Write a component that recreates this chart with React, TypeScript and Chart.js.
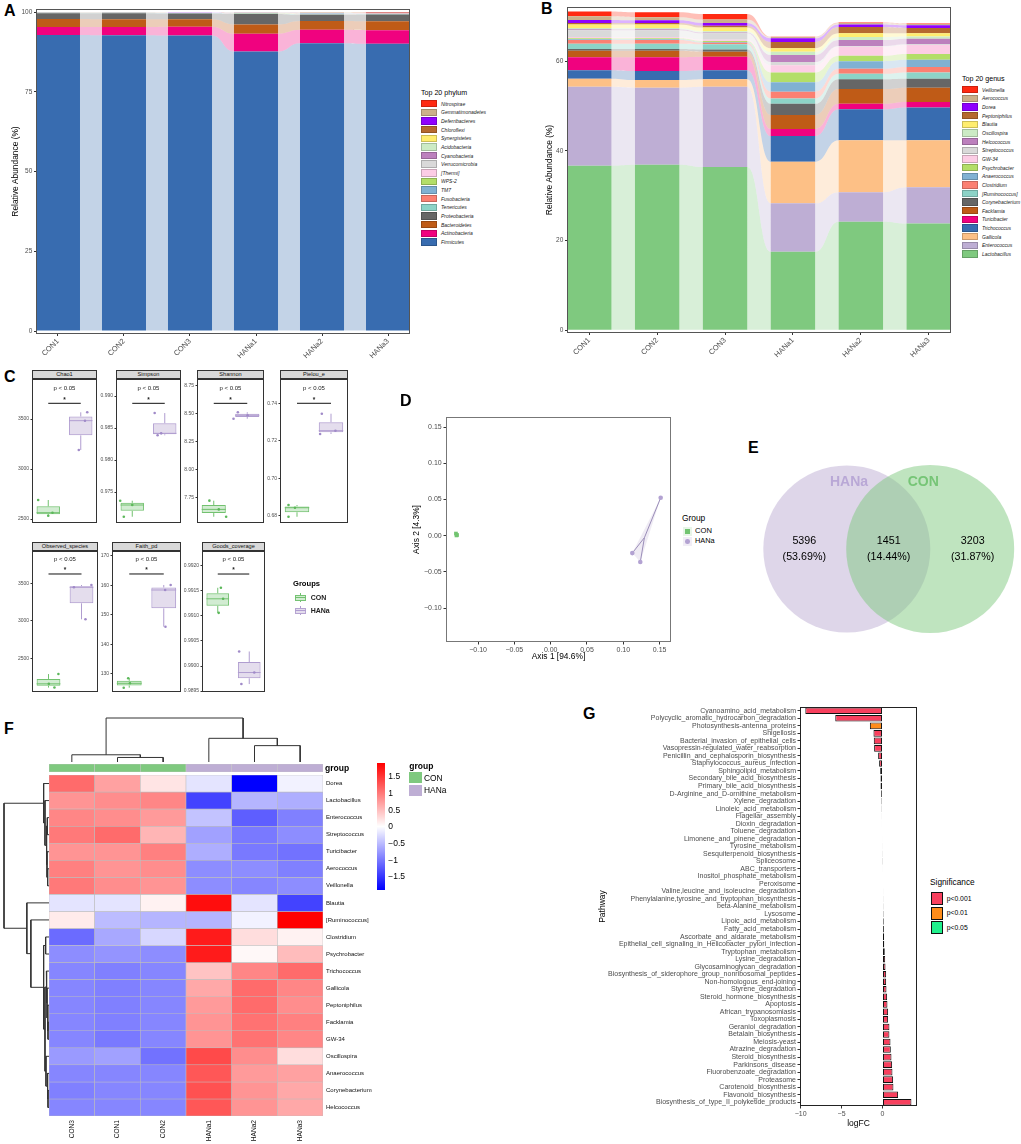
import React, { useEffect, useRef } from 'react';
import { Chart, registerables } from 'chart.js';

Chart.register(...registerables);
const FONT = "'Liberation Sans', Arial, Helvetica, sans-serif";
Chart.defaults.font.family = FONT;
Chart.defaults.color = '#4D4D4D';
Chart.defaults.plugins.legend.display = false;
Chart.defaults.plugins.tooltip.enabled = false;

/* ================= DATA: Panel A (phylum) ================= */
const SAMPLES = ['CON1', 'CON2', 'CON3', 'HANa1', 'HANa2', 'HANa3'];
const PHYLA = ['Firmicutes', 'Actinobacteria', 'Bacteroidetes', 'Proteobacteria', 'Tenericutes', 'Fusobacteria', 'TM7', 'WPS-2', '[Thermi]', 'Verrucomicrobia', 'Cyanobacteria', 'Acidobacteria', 'Synergistetes', 'Chloroflexi', 'Deferribacteres', 'Gemmatimonadetes', 'Nitrospirae'];
const PHYLUM_COLORS = ['#386CB0', '#F0027F', '#BF5B17', '#666666', '#8DD3C7', '#FB8072', '#80B1D3', '#B3DE69', '#FCCDE5', '#D9D9D9', '#BC80BD', '#CCEBC5', '#FFED6F', '#B5692F', '#8F00FF', '#CBB08A', '#FF2A12'];
const FIRMICUTES = [92.9, 92.8, 92.7, 87.7, 90.3, 90.1];
const ACTINOBACTERIA = [2.5, 2.6, 2.8, 5.6, 4.2, 4.3];
const BACTEROIDETES = [2.5, 2.4, 2.3, 2.9, 2.8, 2.8];
const PROTEOBACTERIA = [1.8, 1.9, 1.8, 3.3, 1.9, 2.1];
const TENERICUTES = [0.08, 0.08, 0.09, 0.12, 0.2, 0.18];
const FUSOBACTERIA = [0.03, 0.03, 0.03, 0.05, 0.1, 0.08];
const TM7 = [0.04, 0.03, 0.04, 0.06, 0.1, 0.08];
const WPS2 = [0.01, 0.01, 0.01, 0.02, 0.03, 0.02];
const THERMI = [0.03, 0.03, 0.03, 0.05, 0.07, 0.06];
const VERRUCOMICROBIA = [0.04, 0.05, 0.04, 0.08, 0.12, 0.1];
const CYANOBACTERIA = [0.02, 0.02, 0.02, 0.03, 0.05, 0.04];
const ACIDOBACTERIA = [0.01, 0.01, 0.01, 0.02, 0.02, 0.02];
const SYNERGISTETES = [0.01, 0.01, 0.01, 0.01, 0.02, 0.02];
const CHLOROFLEXI = [0.02, 0.02, 0.02, 0.03, 0.05, 0.04];
const DEFERRIBACTERES = [0.01, 0.01, 0.01, 0.01, 0.02, 0.02];
const GEMMATIMONADETES = [0.01, 0.01, 0.01, 0.01, 0.02, 0.02];
const NITROSPIRAE = [0.01, 0.01, 0.01, 0.02, 0.03, 0.1];
const PHYLUM_SERIES = [FIRMICUTES, ACTINOBACTERIA, BACTEROIDETES, PROTEOBACTERIA, TENERICUTES, FUSOBACTERIA, TM7, WPS2, THERMI, VERRUCOMICROBIA, CYANOBACTERIA, ACIDOBACTERIA, SYNERGISTETES, CHLOROFLEXI, DEFERRIBACTERES, GEMMATIMONADETES, NITROSPIRAE];
const A_TICKS = [0, 25, 50, 75, 100];

/* ================= DATA: Panel B (genus) ================= */
const GENERA = ['Lactobacillus', 'Enterococcus', 'Gallicola', 'Trichococcus', 'Turicibacter', 'Facklamia', 'Corynebacterium', '[Ruminococcus]', 'Clostridium', 'Anaerococcus', 'Psychrobacter', 'GW-34', 'Streptococcus', 'Helcococcus', 'Oscillospira', 'Blautia', 'Peptoniphilus', 'Dorea', 'Aerococcus', 'Veillonella'];
const GENUS_COLORS = ['#7FC97F', '#BEAED4', '#FDC086', '#386CB0', '#F0027F', '#BF5B17', '#666666', '#8DD3C7', '#FB8072', '#80B1D3', '#B3DE69', '#FCCDE5', '#D9D9D9', '#BC80BD', '#CCEBC5', '#FFED6F', '#B5692F', '#8F00FF', '#CBB08A', '#FF2A12'];
const LACTOBACILLUS = [36.7, 36.9, 36.4, 17.5, 24.2, 23.8];
const ENTEROCOCCUS = [17.6, 17.2, 17.9, 10.8, 6.6, 8.1];
const GALLICOLA = [1.8, 1.7, 1.7, 9.3, 11.6, 10.5];
const TRICHOCOCCUS = [1.9, 2.0, 2.0, 5.7, 6.9, 7.3];
const TURICIBACTER = [2.9, 3.1, 3.0, 1.6, 1.2, 1.2];
const FACKLAMIA = [1.4, 1.4, 1.1, 3.1, 3.3, 3.2];
const CORYNEBACTERIUM = [0.4, 0.4, 0.5, 2.5, 2.2, 2.0];
const RUMINOCOCCUS = [1.2, 1.2, 1.2, 1.2, 1.2, 1.4];
const CLOSTRIDIUM = [0.8, 0.8, 0.3, 1.5, 1.1, 1.2];
const ANAEROCOCCUS = [0.2, 0.2, 0.2, 2.1, 1.7, 1.6];
const PSYCHROBACTER = [0.2, 0.2, 0.2, 2.2, 1.2, 1.3];
const GW34 = [0.3, 0.3, 0.3, 1.6, 2.0, 2.0];
const STREPTOCOCCUS = [1.5, 1.5, 1.4, 0.7, 0.2, 0.2];
const HELCOCOCCUS = [0.2, 0.2, 0.2, 1.6, 1.3, 1.2];
const OSCILLOSPIRA = [0.3, 0.3, 0.3, 0.7, 0.7, 0.5];
const BLAUTIA = [0.8, 0.8, 0.8, 0.8, 0.8, 0.7];
const PEPTONIPHILUS = [0.3, 0.3, 0.4, 1.4, 1.4, 1.2];
const DOREA = [0.7, 0.6, 0.6, 0.8, 0.6, 0.6];
const AEROCOCCUS = [0.8, 0.7, 0.8, 0.3, 0.3, 0.3];
const VEILLONELLA = [1.1, 1.1, 1.2, 0.05, 0.1, 0.1];
const GENUS_SERIES = [LACTOBACILLUS, ENTEROCOCCUS, GALLICOLA, TRICHOCOCCUS, TURICIBACTER, FACKLAMIA, CORYNEBACTERIUM, RUMINOCOCCUS, CLOSTRIDIUM, ANAEROCOCCUS, PSYCHROBACTER, GW34, STREPTOCOCCUS, HELCOCOCCUS, OSCILLOSPIRA, BLAUTIA, PEPTONIPHILUS, DOREA, AEROCOCCUS, VEILLONELLA];
const B_TICKS = [0, 20, 40, 60];

/* ================= DATA: Panel C (alpha diversity) ================= */
const GROUPS = ['CON', 'HANa'];
const ALPHA_NAMES = ['Chao1', 'Simpson', 'Shannon', 'Pielou_e', 'Observed_species', 'Faith_pd', 'Goods_coverage'];
const CHAO1_CON = [2690, 2563, 2533];
const CHAO1_HANA = [3567, 3483, 3190];
const SIMPSON_CON = [0.97364, 0.97114, 0.97297];
const SIMPSON_HANA = [0.98734, 0.98386, 0.98417];
const SHANNON_CON = [7.72, 7.576, 7.642];
const SHANNON_HANA = [8.454, 8.512, 8.485];
const PIELOU_CON = [0.68568, 0.67943, 0.68425];
const PIELOU_HANA = [0.73445, 0.72361, 0.72537];
const OBS_CON = [2290, 2110, 2160];
const OBS_HANA = [3477, 3447, 3020];
const FAITH_CON = [128.44, 125.25, 126.74];
const FAITH_HANA = [160.07, 158.37, 145.93];
const GOODS_CON = [0.99156, 0.99106, 0.99134];
const GOODS_HANA = [0.99029, 0.98964, 0.98987];
const CHAO1_JIT = [-0.31, 0.13, 0.0, 0.2, 0.13, -0.06];
const SIMPSON_JIT = [-0.37, -0.26, 0.0, -0.31, -0.22, -0.11];
const SHANNON_JIT = [-0.13, 0.37, 0.15, -0.41, -0.28, 0.01];
const PIELOU_JIT = [-0.25, -0.25, -0.06, -0.27, -0.32, 0.13];
const OBS_JIT = [0.3, 0.18, 0.01, 0.3, -0.23, 0.12];
const FAITH_JIT = [-0.03, -0.16, 0.02, 0.2, 0.04, 0.05];
const GOODS_JIT = [0.1, 0.03, 0.17, -0.32, -0.25, 0.16];
const CHAO1_TICKS = [2500, 3000, 3500];
const SIMPSON_TICKS = [0.975, 0.98, 0.985, 0.99];
const SHANNON_TICKS = [7.75, 8.0, 8.25, 8.5, 8.75];
const PIELOU_TICKS = [0.68, 0.7, 0.72, 0.74];
const OBS_TICKS = [2500, 3000, 3500];
const FAITH_TICKS = [130, 140, 150, 160, 170];
const GOODS_TICKS = [0.9895, 0.99, 0.9905, 0.991, 0.9915, 0.992];
const ALPHA_MIN = [2460, 0.97016, 7.52, 0.6761, 2051, 123.79, 0.989482];
const ALPHA_MAX = [3900, 0.99266, 8.81, 0.75297, 3930.6, 171.59, 0.992293];
const ALPHA_SIG = [3657, 0.98886, 8.592, 0.74, 3624, 163.8, 0.991834];
const ALPHA_DECIMALS = [0, 3, 2, 2, 0, 0, 4];
const ALPHA_P = 'p < 0.05';

/* ================= DATA: Panel D (PCoA) ================= */
const CON_PC1 = [-0.1305, -0.129, -0.1298];
const CON_PC2 = [0.003, 0.001, 0.0004];
const HANA_PC1 = [0.1515, 0.1124, 0.1234];
const HANA_PC2 = [0.0525, -0.024, -0.0363];
const D_TICKS = [-0.1, -0.05, 0, 0.05, 0.1, 0.15];

/* ================= DATA: Panel E (Venn) ================= */
const VENN_SETS = ['HANa', 'CON'];
const VENN_COUNTS = [5396, 1451, 3203];

/* ================= DATA: Panel F (heatmap) ================= */
const HEAT_COLS = ['CON3', 'CON1', 'CON2', 'HANa1', 'HANa2', 'HANa3'];
const HEAT_GROUPS = ['CON', 'CON', 'CON', 'HANa', 'HANa', 'HANa'];
const HEAT_ROWS = ['Dorea', 'Lactobacillus', 'Enterococcus', 'Streptococcus', 'Turicibacter', 'Aerococcus', 'Veillonella', 'Blautia', '[Ruminococcus]', 'Clostridium', 'Psychrobacter', 'Trichococcus', 'Gallicola', 'Peptoniphilus', 'Facklamia', 'GW-34', 'Oscillospira', 'Anaerococcus', 'Corynebacterium', 'Helcococcus'];
const Z_DOREA = [1.1, 0.7, 0.2, -0.2, -1.9, -0.1];
const Z_LACTOBACILLUS = [0.8, 0.85, 0.9, -1.4, -0.55, -0.6];
const Z_ENTEROCOCCUS = [0.9, 0.85, 0.75, -0.45, -1.2, -0.95];
const Z_STREPTOCOCCUS = [1.0, 1.1, 0.55, -0.7, -1.0, -0.85];
const Z_TURICIBACTER = [0.8, 0.8, 0.95, -0.6, -1.0, -1.05];
const Z_AEROCOCCUS = [0.95, 0.8, 0.85, -0.85, -0.85, -0.95];
const Z_VEILLONELLA = [1.0, 0.85, 0.8, -0.85, -0.9, -0.85];
const Z_BLAUTIA = [-0.2, -0.2, 0.1, 1.8, -0.2, -1.4];
const Z_RUMINOCOCCUS = [0.15, -0.5, -0.55, -0.55, -0.1, 1.9];
const Z_CLOSTRIDIUM = [-1.1, -0.65, -0.3, 1.7, 0.25, 0.1];
const Z_PSYCHROBACTER = [-0.85, -0.8, -0.85, 1.7, 0.05, 0.5];
const Z_TRICHOCOCCUS = [-0.9, -0.95, -0.9, 0.45, 0.9, 1.1];
const Z_GALLICOLA = [-0.9, -0.95, -0.9, 0.65, 1.1, 0.9];
const Z_PEPTONIPHILUS = [-0.9, -0.95, -0.9, 0.75, 1.1, 0.85];
const Z_FACKLAMIA = [-0.9, -0.95, -0.9, 0.8, 1.05, 0.95];
const Z_GW34 = [-0.9, -1.0, -0.9, 0.8, 1.05, 0.9];
const Z_OSCILLOSPIRA = [-0.75, -0.7, -1.05, 1.35, 0.85, 0.25];
const Z_ANAEROCOCCUS = [-0.9, -0.9, -0.9, 1.25, 0.75, 0.7];
const Z_CORYNEBACTERIUM = [-0.95, -0.9, -0.9, 1.3, 0.8, 0.65];
const Z_HELCOCOCCUS = [-0.9, -0.9, -0.9, 1.25, 0.8, 0.65];
const HEAT_Z = [Z_DOREA, Z_LACTOBACILLUS, Z_ENTEROCOCCUS, Z_STREPTOCOCCUS, Z_TURICIBACTER, Z_AEROCOCCUS, Z_VEILLONELLA, Z_BLAUTIA, Z_RUMINOCOCCUS, Z_CLOSTRIDIUM, Z_PSYCHROBACTER, Z_TRICHOCOCCUS, Z_GALLICOLA, Z_PEPTONIPHILUS, Z_FACKLAMIA, Z_GW34, Z_OSCILLOSPIRA, Z_ANAEROCOCCUS, Z_CORYNEBACTERIUM, Z_HELCOCOCCUS];
const Z_LIMIT = 1.9;
const Z_LEGEND_TICKS = [1.5, 1, 0.5, 0, -0.5, -1, -1.5];
type Tree = number | [number, Tree, Tree];
const COL_TREE: Tree = [1.0, [0.164, 0, [0.103, 1, 2]], [0.538, 3, [0.372, 4, 5]]];
const ROW_TREE: Tree = [134, [16, 0, [12, 1, [8, [5, 2, 3], [6, 4, [4, 5, 6]]]]], [66, 7, [54, 8, [16, [10, 9, 10], [12, [8, 11, [6, 12, [4, 13, [3, 14, 15]]]], [9, 16, [5, 17, [3, 18, 19]]]]]]]];

/* ================= DATA: Panel G (pathways) ================= */
const PATHWAYS = ['Cyanoamino_acid_metabolism', 'Polycyclic_aromatic_hydrocarbon_degradation', 'Photosynthesis-antenna_proteins', 'Shigellosis', 'Bacterial_invasion_of_epithelial_cells', 'Vasopressin-regulated_water_reabsorption', 'Penicillin_and_cephalosporin_biosynthesis', 'Staphylococcus_aureus_infection', 'Sphingolipid_metabolism', 'Secondary_bile_acid_biosynthesis', 'Primary_bile_acid_biosynthesis', 'D-Arginine_and_D-ornithine_metabolism', 'Xylene_degradation', 'Linoleic_acid_metabolism', 'Flagellar_assembly', 'Dioxin_degradation', 'Toluene_degradation', 'Limonene_and_pinene_degradation', 'Tyrosine_metabolism', 'Sesquiterpenoid_biosynthesis', 'Spliceosome', 'ABC_transporters', 'Inositol_phosphate_metabolism', 'Peroxisome', 'Valine,leucine_and_isoleucine_degradation', 'Phenylalanine,tyrosine_and_tryptophan_biosynthesis', 'beta-Alanine_metabolism', 'Lysosome', 'Lipoic_acid_metabolism', 'Fatty_acid_metabolism', 'Ascorbate_and_aldarate_metabolism', 'Epithelial_cell_signaling_in_Helicobacter_pylori_infection', 'Tryptophan_metabolism', 'Lysine_degradation', 'Glycosaminoglycan_degradation', 'Biosynthesis_of_siderophore_group_nonribosomal_peptides', 'Non-homologous_end-joining', 'Styrene_degradation', 'Steroid_hormone_biosynthesis', 'Apoptosis', 'African_trypanosomiasis', 'Toxoplasmosis', 'Geraniol_degradation', 'Betalain_biosynthesis', 'Meiosis-yeast', 'Atrazine_degradation', 'Steroid_biosynthesis', 'Parkinsons_disease', 'Fluorobenzoate_degradation', 'Proteasome', 'Carotenoid_biosynthesis', 'Flavonoid_biosynthesis', 'Biosynthesis_of_type_II_polyketide_products'];
const LOGFC = [-9.43, -5.77, -1.54, -1.1, -1.06, -1.02, -0.53, -0.41, -0.28, -0.24, -0.24, -0.16, -0.12, -0.1, -0.08, -0.07, -0.06, -0.05, -0.04, -0.03, -0.02, 0.05, 0.06, 0.07, 0.08, 0.09, 0.1, 0.12, 0.15, 0.17, 0.2, 0.22, 0.28, 0.33, 0.37, 0.45, 0.45, 0.49, 0.57, 0.61, 0.69, 0.69, 0.85, 0.85, 0.98, 1.02, 1.1, 1.18, 1.22, 1.3, 1.34, 1.91, 3.54];
const SIG_LEVELS = ['p<0.001', 'p<0.01', 'p<0.05'];
const SIGNIF = ['p<0.001', 'p<0.001', 'p<0.01', 'p<0.001', 'p<0.001', 'p<0.001', 'p<0.001', 'p<0.001', 'p<0.001', 'p<0.001', 'p<0.001', 'p<0.01', 'p<0.05', 'p<0.05', 'p<0.05', 'p<0.05', 'p<0.01', 'p<0.05', 'p<0.05', 'p<0.05', 'p<0.05', 'p<0.01', 'p<0.01', 'p<0.05', 'p<0.01', 'p<0.01', 'p<0.01', 'p<0.001', 'p<0.01', 'p<0.01', 'p<0.01', 'p<0.001', 'p<0.001', 'p<0.001', 'p<0.001', 'p<0.001', 'p<0.001', 'p<0.001', 'p<0.001', 'p<0.001', 'p<0.001', 'p<0.001', 'p<0.001', 'p<0.001', 'p<0.001', 'p<0.001', 'p<0.001', 'p<0.001', 'p<0.001', 'p<0.001', 'p<0.001', 'p<0.001', 'p<0.001'];
const G_TICKS = [-10, -5, 0];

/* ================= STYLES ================= */
const CON_LINE = '#72C16F';
const CON_FILL = 'rgba(127,201,127,0.35)';
const CON_PT = '#5CB85A';
const HANA_LINE = '#B09DD0';
const HANA_FILL = 'rgba(190,174,212,0.42)';
const HANA_PT = '#A08AC8';
const SIG_COLORS = ['#F8405E', '#FF8C1A', '#20F08C'];

/* ================= HELPERS ================= */
type Plot = { L: number; T: number; R: number; B: number; ml: number; mt: number; mr: number; mb: number };
type Box = { x: number; y: number; w: number; h: number };
const boxOf = (p: Plot): Box => ({ x: p.L - p.ml, y: p.T - p.mt, w: p.R - p.L + p.ml + p.mr, h: p.B - p.T + p.mt + p.mb });
const fixW = (w: number) => (s: any) => { s.width = w; s.paddingLeft = 0; s.paddingRight = 0; s.paddingTop = 0; s.paddingBottom = 0; };
const fixH = (h: number) => (s: any) => { s.height = h; s.paddingLeft = 0; s.paddingRight = 0; s.paddingTop = 0; s.paddingBottom = 0; };
const tickGrid = (len: number) => ({ display: true, drawOnChartArea: false, drawTicks: true, tickLength: len, color: '#333333', lineWidth: 1, offset: false });
const setTicks = (vals: number[]) => (s: any) => { s.ticks = vals.map((v) => ({ value: v })); };
const minus = (s: string) => s.replace('-', '\u2212');
const baseOpts = (padding: any) => ({ responsive: false, animation: false, events: [], layout: { autoPadding: false, padding } });

function hexA(hex: string, a: number) {
  const n = parseInt(hex.slice(1), 16);
  return `rgba(${(n >> 16) & 255},${(n >> 8) & 255},${n & 255},${a})`;
}
function zColor(z: number) {
  const t = Math.max(-1, Math.min(1, z / Z_LIMIT));
  const k = Math.round(255 * (1 - Math.abs(t)));
  return t >= 0 ? `rgb(255,${k},${k})` : `rgb(${k},${k},255)`;
}
function q7(s: number[], p: number) {
  const h = (s.length - 1) * p;
  const lo = Math.floor(h);
  const hi = Math.ceil(h);
  return s[lo] + (h - lo) * (s[hi] - s[lo]);
}
function boxStats(v: number[]) {
  const s = [...v].sort((a, b) => a - b);
  return { min: s[0], q1: q7(s, 0.25), med: q7(s, 0.5), q3: q7(s, 0.75), max: s[s.length - 1] };
}
const mean = (a: number[]) => a.reduce((x, y) => x + y, 0) / a.length;

function dendro(t: Tree, out: { p: number; h: number }[][]): { p: number; h: number } {
  if (typeof t === 'number') return { p: t + 0.5, h: 0 };
  const [h, a, b] = t;
  const A = dendro(a, out);
  const B = dendro(b, out);
  out.push([{ p: A.p, h: A.h }, { p: A.p, h }, { p: B.p, h }, { p: B.p, h: B.h }]);
  return { p: (A.p + B.p) / 2, h };
}

const framePlugin = (color: string, lw = 1) => ({
  id: 'frame',
  afterDatasetsDraw(chart: any) {
    const { ctx, chartArea: a } = chart;
    ctx.save();
    ctx.strokeStyle = color;
    ctx.lineWidth = lw;
    ctx.strokeRect(a.left + lw / 2, a.top + lw / 2, a.right - a.left - lw, a.bottom - a.top - lw);
    ctx.restore();
  },
});

const flowPlugin = (alpha: number) => ({
  id: 'flows',
  beforeDatasetsDraw(chart: any) {
    const { ctx, chartArea: ca } = chart;
    ctx.save();
    ctx.beginPath();
    ctx.rect(ca.left, ca.top, ca.right - ca.left, ca.bottom - ca.top);
    ctx.clip();
    chart.data.datasets.forEach((ds: any, di: number) => {
      const els = chart.getDatasetMeta(di).data;
      ctx.fillStyle = hexA(ds.backgroundColor, alpha);
      for (let i = 0; i + 1 < els.length; i++) {
        const a = els[i].getProps(['x', 'y', 'base', 'width'], true);
        const b = els[i + 1].getProps(['x', 'y', 'base', 'width'], true);
        const x1 = a.x + a.width / 2;
        const x2 = b.x - b.width / 2;
        const xm = (x1 + x2) / 2;
        ctx.beginPath();
        ctx.moveTo(x1, a.y);
        ctx.bezierCurveTo(xm, a.y, xm, b.y, x2, b.y);
        ctx.lineTo(x2, b.base);
        ctx.bezierCurveTo(xm, b.base, xm, a.base, x1, a.base);
        ctx.closePath();
        ctx.fill();
      }
    });
    ctx.restore();
  },
});

const sigTextPlugin = (sig: number) => ({
  id: 'sigtext',
  afterDatasetsDraw(chart: any) {
    const { ctx } = chart;
    const px = chart.scales.x.getPixelForValue(0.5);
    const py = chart.scales.y.getPixelForValue(sig);
    ctx.save();
    ctx.fillStyle = '#222';
    ctx.textAlign = 'center';
    ctx.textBaseline = 'middle';
    ctx.font = `6px ${FONT}`;
    ctx.fillText(ALPHA_P, px, py - 15);
    ctx.font = `bold 6.5px ${FONT}`;
    ctx.fillText('*', px, py - 3.5);
    ctx.restore();
  },
});

function ChartCanvas({ box, make }: { box: Box; make: () => any }) {
  const ref = useRef<HTMLCanvasElement | null>(null);
  useEffect(() => {
    if (!ref.current) return;
    const chart = new Chart(ref.current, make());
    return () => chart.destroy();
  }, []);
  return <canvas ref={ref} width={box.w} height={box.h} style={{ position: 'absolute', left: box.x, top: box.y, width: box.w, height: box.h }} />;
}

function Txt({ x, y, text, size, bold, italic, color = '#000', align = 'left' }: any) {
  const tx = align === 'center' ? 'translateX(-50%)' : align === 'right' ? 'translateX(-100%)' : undefined;
  return (
    <div style={{ position: 'absolute', left: x, top: y - size, height: size * 2, lineHeight: `${size * 2}px`, fontSize: size, fontWeight: bold ? 'bold' : 'normal', fontStyle: italic ? 'italic' : 'normal', color, whiteSpace: 'nowrap', transform: tx }}>
      {text}
    </div>
  );
}

function PanelLabel({ x, y, t }: { x: number; y: number; t: string }) {
  return <div style={{ position: 'absolute', left: x, top: y, fontSize: 16, lineHeight: '16px', fontWeight: 'bold', color: '#000' }}>{t}</div>;
}

/* ================= PANELS A & B ================= */
function makeStacked(names: string[], colors: string[], series: number[][], plot: Plot, xMin: number, xMax: number, barPct: number, yMin: number, yMax: number, yTicks: number[]) {
  return () => ({
    type: 'bar',
    data: {
      datasets: names.map((n, k) => ({
        label: n,
        data: series[k].map((v, i) => ({ x: i, y: v })),
        backgroundColor: colors[k],
        borderWidth: 0,
        barPercentage: barPct,
        categoryPercentage: 1,
      })),
    },
    options: {
      ...baseOpts({ top: plot.mt, right: plot.mr, left: 0, bottom: 0 }),
      scales: {
        x: {
          type: 'linear', stacked: true, min: xMin, max: xMax, offset: false,
          afterBuildTicks: setTicks(SAMPLES.map((_, i) => i)),
          ticks: { autoSkip: false, maxRotation: 45, minRotation: 45, font: { size: 7.5 }, color: '#4D4D4D', padding: 1, callback: (v: any) => SAMPLES[Math.round(v)] },
          grid: tickGrid(2), border: { display: false }, afterFit: fixH(plot.mb),
        },
        y: {
          type: 'linear', stacked: true, min: yMin, max: yMax,
          afterBuildTicks: setTicks(yTicks),
          ticks: { font: { size: 6.5 }, color: '#4D4D4D', padding: 1.7 },
          grid: tickGrid(2), border: { display: false },
          title: { display: true, text: 'Relative Abundance (%)', font: { size: 8.4 }, color: '#000', padding: 0 },
          afterFit: fixW(plot.ml),
        },
      },
    },
    plugins: [flowPlugin(0.3), framePlugin('#555')],
  });
}
const A_PLOT: Plot = { L: 36, T: 9, R: 410, B: 334, ml: 25, mt: 2, mr: 2, mb: 32 };
const B_PLOT: Plot = { L: 567, T: 7, R: 951, B: 333, ml: 22, mt: 2, mr: 2, mb: 32 };

function KeyLegend({ x, titleY, firstY, step, title, names, colors }: any) {
  return (
    <>
      <Txt x={x} y={titleY} size={7.1} text={title} />
      {names.map((n: string, i: number) => (
        <React.Fragment key={n}>
          <div style={{ position: 'absolute', left: x, top: firstY + i * step - 3.7, width: 16, height: 7.4, background: colors[i], boxSizing: 'border-box', border: '0.7px solid rgba(0,0,0,0.2)' }} />
          <Txt x={x + 20} y={firstY + i * step} size={5} italic text={n} color="#222" />
        </React.Fragment>
      ))}
    </>
  );
}

/* ================= PANEL C ================= */
const ALPHA_CON = [CHAO1_CON, SIMPSON_CON, SHANNON_CON, PIELOU_CON, OBS_CON, FAITH_CON, GOODS_CON];
const ALPHA_HANA = [CHAO1_HANA, SIMPSON_HANA, SHANNON_HANA, PIELOU_HANA, OBS_HANA, FAITH_HANA, GOODS_HANA];
const ALPHA_JIT = [CHAO1_JIT, SIMPSON_JIT, SHANNON_JIT, PIELOU_JIT, OBS_JIT, FAITH_JIT, GOODS_JIT];
const ALPHA_TICKS = [CHAO1_TICKS, SIMPSON_TICKS, SHANNON_TICKS, PIELOU_TICKS, OBS_TICKS, FAITH_TICKS, GOODS_TICKS];
const FACET_RECTS = [
  [32, 379, 97, 523], [116, 379, 181, 523], [197, 379, 264, 523], [280, 379, 348, 523],
  [32, 551, 98, 692], [112, 551, 181, 692], [202, 551, 265, 692],
];

function Facet({ idx }: { idx: number }) {
  const [L, T, R, B] = FACET_RECTS[idx];
  const plot: Plot = { L, T, R, B, ml: 20, mt: 0, mr: 1, mb: 1 };
  const make = () => {
    const con = ALPHA_CON[idx];
    const hana = ALPHA_HANA[idx];
    const jit = ALPHA_JIT[idx];
    const sc = boxStats(con);
    const sh = boxStats(hana);
    const whisk = (g: number, s: any) => [
      { x: g, y: s.min }, { x: g, y: s.q1 }, { x: g, y: null },
      { x: g, y: s.q3 }, { x: g, y: s.max }, { x: g, y: null },
      { x: g - 0.36, y: s.med }, { x: g + 0.36, y: s.med },
    ];
    const dec = ALPHA_DECIMALS[idx];
    return {
      type: 'scatter',
      data: {
        datasets: [
          { type: 'bar', data: [{ x: 0, y: [sc.q1, sc.q3] }, { x: 1, y: [sh.q1, sh.q3] }], backgroundColor: [CON_FILL, HANA_FILL], borderColor: [CON_LINE, HANA_LINE], borderWidth: 1, borderSkipped: false, grouped: false, barPercentage: 0.72, categoryPercentage: 1, order: 5 },
          { type: 'scatter', showLine: true, data: whisk(0, sc), borderColor: CON_LINE, borderWidth: 1, pointRadius: 0, order: 4 },
          { type: 'scatter', showLine: true, data: whisk(1, sh), borderColor: HANA_LINE, borderWidth: 1, pointRadius: 0, order: 4 },
          { type: 'scatter', data: con.map((v, k) => ({ x: 0 + jit[k], y: v })), pointRadius: 1.3, backgroundColor: CON_PT, borderWidth: 0, order: 2 },
          { type: 'scatter', data: hana.map((v, k) => ({ x: 1 + jit[k + 3], y: v })), pointRadius: 1.3, backgroundColor: HANA_PT, borderWidth: 0, order: 2 },
          { type: 'scatter', showLine: true, data: [{ x: 0, y: ALPHA_SIG[idx] }, { x: 1, y: ALPHA_SIG[idx] }], borderColor: '#111', borderWidth: 1, pointRadius: 0, order: 1 },
        ],
      },
      options: {
        ...baseOpts({ top: 0, right: 1, bottom: 1, left: 0 }),
        scales: {
          x: { type: 'linear', display: false, offset: false, min: -0.5, max: 1.5, afterBuildTicks: setTicks([0, 1]) },
          y: {
            type: 'linear', min: ALPHA_MIN[idx], max: ALPHA_MAX[idx],
            afterBuildTicks: setTicks(ALPHA_TICKS[idx]),
            ticks: { font: { size: 5 }, color: '#4D4D4D', padding: 1.5, callback: (v: any) => Number(v).toFixed(dec) },
            grid: tickGrid(1.5), border: { display: false }, afterFit: fixW(20),
          },
        },
      },
      plugins: [framePlugin('#333'), sigTextPlugin(ALPHA_SIG[idx])],
    };
  };
  return (
    <>
      <div style={{ position: 'absolute', left: L, top: T - 8.6, width: R - L, height: 9, boxSizing: 'border-box', background: '#D9D9D9', border: '0.8px solid #333', fontSize: 5.6, lineHeight: '7.5px', textAlign: 'center', color: '#111' }}>{ALPHA_NAMES[idx]}</div>
      <ChartCanvas box={boxOf(plot)} make={make} />
    </>
  );
}

function BoxKey({ x, y, line, fill }: any) {
  return (
    <>
      <div style={{ position: 'absolute', left: x + 5, top: y - 4.5, width: 1, height: 9, background: line }} />
      <div style={{ position: 'absolute', left: x, top: y - 3, width: 11, height: 6, boxSizing: 'border-box', border: `1px solid ${line}`, background: '#fff' }} />
      <div style={{ position: 'absolute', left: x, top: y - 3, width: 11, height: 6, background: fill }} />
      <div style={{ position: 'absolute', left: x, top: y - 0.5, width: 11, height: 1, background: line }} />
    </>
  );
}

/* ================= PANEL D ================= */
const D_PLOT: Plot = { L: 446, T: 417, R: 671, B: 642, ml: 34, mt: 2, mr: 2, mb: 20 };
const makeD = () => {
  const hx = mean(HANA_PC1), hy = mean(HANA_PC2);
  const cx = mean(CON_PC1), cy = mean(CON_PC2);
  const spider = (xs: number[], ys: number[], mx: number, my: number) => xs.flatMap((x, i) => [{ x: mx, y: my }, { x, y: ys[i] }, { x: mx, y: null }]);
  const hull = (xs: number[], ys: number[]) => [...xs.map((x, i) => ({ x, y: ys[i] })), { x: xs[0], y: ys[0] }];
  const fmt = (v: any) => minus(Number(v).toFixed(2));
  return {
    type: 'scatter',
    data: {
      datasets: [
        { data: hull(HANA_PC1, HANA_PC2), showLine: true, fill: 'shape', backgroundColor: 'rgba(190,174,212,0.25)', borderWidth: 0, pointRadius: 0, order: 5 },
        { data: hull(CON_PC1, CON_PC2), showLine: true, fill: 'shape', backgroundColor: 'rgba(127,201,127,0.25)', borderWidth: 0, pointRadius: 0, order: 5 },
        { data: spider(HANA_PC1, HANA_PC2, hx, hy), showLine: true, borderColor: '#9A8DB8', borderWidth: 1, pointRadius: 0, order: 3 },
        { data: spider(CON_PC1, CON_PC2, cx, cy), showLine: true, borderColor: '#6CB86A', borderWidth: 1, pointRadius: 0, order: 3 },
        { data: HANA_PC1.map((x, i) => ({ x, y: HANA_PC2[i] })), pointStyle: 'circle', pointRadius: 2.3, backgroundColor: '#B3A2D2', borderWidth: 0, order: 1 },
        { data: CON_PC1.map((x, i) => ({ x, y: CON_PC2[i] })), pointStyle: 'rect', pointRadius: 2.6, backgroundColor: '#72C470', borderWidth: 0, order: 1 },
      ],
    },
    options: {
      ...baseOpts({ top: D_PLOT.mt, right: D_PLOT.mr, left: 0, bottom: 0 }),
      scales: {
        x: {
          type: 'linear', min: -0.1442, max: 0.1657, afterBuildTicks: setTicks(D_TICKS),
          ticks: { font: { size: 7 }, color: '#4D4D4D', padding: 1, callback: fmt },
          grid: tickGrid(2.5), border: { display: false },
          title: { display: true, text: 'Axis 1 [94.6%]', font: { size: 8.4 }, color: '#000', padding: 0 },
          afterFit: fixH(D_PLOT.mb),
        },
        y: {
          type: 'linear', min: -0.1468, max: 0.164, afterBuildTicks: setTicks(D_TICKS),
          ticks: { font: { size: 7 }, color: '#4D4D4D', padding: 1.8, callback: fmt },
          grid: tickGrid(2.5), border: { display: false },
          title: { display: true, text: 'Axis 2 [4.3%]', font: { size: 8.4 }, color: '#000', padding: 0 },
          afterFit: fixW(D_PLOT.ml),
        },
      },
    },
    plugins: [framePlugin('#777')],
  };
};

/* ================= PANEL E ================= */
const E_BOX: Box = { x: 755, y: 459, w: 267, h: 180 };
const makeE = () => ({
  type: 'bubble',
  data: {
    datasets: [
      { data: [{ x: -0.937, y: 0, r: 83.5 }], backgroundColor: 'rgba(190,174,212,0.5)', borderWidth: 0, clip: false, order: 2 },
      { data: [{ x: 0.937, y: 0, r: 84 }], backgroundColor: 'rgba(127,201,127,0.5)', borderWidth: 0, clip: false, order: 1 },
    ],
  },
  options: {
    ...baseOpts(0),
    scales: { x: { type: 'linear', display: false, min: -3, max: 3 }, y: { type: 'linear', display: false, min: -1, max: 1 } },
  },
});

/* ================= PANEL F ================= */
const F_HEAT: Plot = { L: 49, T: 775, R: 323, B: 1116, ml: 0, mt: 0, mr: 62, mb: 28 };
const F_ANNOT: Plot = { L: 49, T: 764, R: 323, B: 772, ml: 0, mt: 0, mr: 0, mb: 0 };
const F_TOP: Plot = { L: 49, T: 718, R: 323, B: 762, ml: 2, mt: 2, mr: 2, mb: 0 };
const F_LEFT: Plot = { L: 4, T: 775, R: 49, B: 1116, ml: 2, mt: 0, mr: 1, mb: 0 };
const GROUP_COLORS: Record<string, string> = { CON: '#7FC97F', HANa: '#BEAED4' };

const makeHeat = () => ({
  type: 'bar',
  data: {
    labels: HEAT_COLS,
    datasets: HEAT_Z.map((row, r) => ({
      data: row.map(() => [r, r + 1]),
      backgroundColor: row.map(zColor),
      borderColor: '#BDBDBD', borderWidth: 0.6, borderSkipped: false,
      grouped: false, barPercentage: 1, categoryPercentage: 1,
    })),
  },
  options: {
    ...baseOpts({ top: 0, left: 0, right: 0, bottom: 0 }),
    scales: {
      x: {
        type: 'category', offset: true, grid: { display: false, drawTicks: false }, border: { display: false },
        ticks: { autoSkip: false, maxRotation: 90, minRotation: 90, font: { size: 6.6 }, color: '#111', padding: 4 },
        afterFit: fixH(F_HEAT.mb),
      },
      y: {
        type: 'linear', position: 'right', reverse: true, min: 0, max: HEAT_ROWS.length,
        grid: { display: false, drawTicks: false }, border: { display: false },
        afterBuildTicks: setTicks(HEAT_ROWS.map((_, i) => i + 0.5)),
        ticks: { autoSkip: false, font: { size: 6 }, color: '#111', padding: 3, callback: (v: any) => HEAT_ROWS[Math.round(v - 0.5)] },
        afterFit: fixW(F_HEAT.mr),
      },
    },
  },
});

const makeAnnot = () => ({
  type: 'bar',
  data: {
    labels: HEAT_COLS,
    datasets: [{ data: HEAT_GROUPS.map(() => [0, 1]), backgroundColor: HEAT_GROUPS.map((g) => GROUP_COLORS[g]), borderColor: '#C8C8C8', borderWidth: 0.6, borderSkipped: false, barPercentage: 1, categoryPercentage: 1 }],
  },
  options: {
    ...baseOpts(0),
    scales: { x: { type: 'category', display: false, offset: true }, y: { type: 'linear', display: false, min: 0, max: 1 } },
  },
});

const dendroPoints = (tree: Tree, vertical: boolean) => {
  const segs: { p: number; h: number }[][] = [];
  dendro(tree, segs);
  const pts: any[] = [];
  segs.forEach((s) => {
    s.forEach((q) => pts.push(vertical ? { x: q.p, y: q.h } : { x: q.h, y: q.p }));
    pts.push({ x: 0, y: null });
  });
  return pts;
};
const makeTopDendro = () => ({
  type: 'scatter',
  data: { datasets: [{ data: dendroPoints(COL_TREE, true), showLine: true, borderColor: '#333', borderWidth: 1, pointRadius: 0, clip: false }] },
  options: {
    ...baseOpts({ top: F_TOP.mt, left: F_TOP.ml, right: F_TOP.mr, bottom: F_TOP.mb }),
    scales: { x: { type: 'linear', display: false, min: 0, max: HEAT_COLS.length }, y: { type: 'linear', display: false, min: 0, max: 1 } },
  },
});
const makeLeftDendro = () => ({
  type: 'scatter',
  data: { datasets: [{ data: dendroPoints(ROW_TREE, false), showLine: true, borderColor: '#333', borderWidth: 1, pointRadius: 0, clip: false }] },
  options: {
    ...baseOpts({ top: F_LEFT.mt, left: F_LEFT.ml, right: F_LEFT.mr, bottom: F_LEFT.mb }),
    scales: { x: { type: 'linear', display: false, min: 0, max: 134, reverse: true }, y: { type: 'linear', display: false, min: 0, max: HEAT_ROWS.length, reverse: true } },
  },
});

/* ================= PANEL G ================= */
const G_PLOT: Plot = { L: 800, T: 707, R: 917, B: 1106, ml: 202, mt: 3, mr: 3, mb: 23 };
const makeG = () => ({
  type: 'bar',
  data: {
    labels: PATHWAYS,
    datasets: [{ data: LOGFC, backgroundColor: SIGNIF.map((s) => SIG_COLORS[SIG_LEVELS.indexOf(s)]), borderColor: '#111', borderWidth: 1, borderSkipped: false, barPercentage: 0.88, categoryPercentage: 1 }],
  },
  options: {
    ...baseOpts({ top: G_PLOT.mt, right: G_PLOT.mr, left: 0, bottom: 0 }),
    indexAxis: 'y',
    scales: {
      x: {
        type: 'linear', min: -10.08, max: 4.22, afterBuildTicks: setTicks(G_TICKS),
        ticks: { font: { size: 7 }, color: '#4D4D4D', padding: 1.5, callback: (v: any) => minus(String(v)) },
        grid: tickGrid(2.5), border: { display: false },
        title: { display: true, text: 'logFC', font: { size: 8.5 }, color: '#000', padding: 0 },
        afterFit: fixH(G_PLOT.mb),
      },
      y: {
        type: 'category', offset: true,
        ticks: { autoSkip: false, font: { size: 7 }, color: '#4D4D4D', padding: 1.5 },
        grid: tickGrid(2.5), border: { display: false },
        title: { display: true, text: 'Pathway', font: { size: 8.5 }, color: '#000', padding: 0 },
        afterFit: fixW(G_PLOT.ml),
      },
    },
  },
  plugins: [framePlugin('#222')],
});

/* ================= APP ================= */
export default function App() {
  const vennTotal = VENN_COUNTS.reduce((a, b) => a + b, 0);
  const vennX = [804.3, 888.7, 972.7];
  return (
    <div style={{ position: 'absolute', left: 0, top: 0, width: 1021, height: 1144, background: '#fff', overflow: 'hidden', fontFamily: FONT, color: '#000' }}>
      {/* A */}
      <PanelLabel x={4} y={3} t="A" />
      <ChartCanvas box={boxOf(A_PLOT)} make={makeStacked(PHYLA, PHYLUM_COLORS, PHYLUM_SERIES, A_PLOT, -0.333, 5.333, 0.667, -0.94, 101.04, A_TICKS)} />
      <KeyLegend x={421} titleY={92.7} firstY={103.7} step={8.64} title="Top 20 phylum" names={[...PHYLA].reverse()} colors={[...PHYLUM_COLORS].reverse()} />

      {/* B */}
      <PanelLabel x={541} y={1.3} t="B" />
      <ChartCanvas box={boxOf(B_PLOT)} make={makeStacked(GENERA, GENUS_COLORS, GENUS_SERIES, B_PLOT, -0.328, 5.328, 0.655, -0.6, 72.08, B_TICKS)} />
      <KeyLegend x={962} titleY={79} firstY={89.7} step={8.65} title="Top 20 genus" names={[...GENERA].reverse()} colors={[...GENUS_COLORS].reverse()} />

      {/* C */}
      <PanelLabel x={4} y={369} t="C" />
      {ALPHA_NAMES.map((n, i) => <Facet key={n} idx={i} />)}
      <Txt x={293} y={584} size={7.6} bold text="Groups" />
      <BoxKey x={295} y={597.7} line={CON_LINE} fill={CON_FILL} />
      <BoxKey x={295} y={610.7} line={HANA_LINE} fill={HANA_FILL} />
      <Txt x={310.7} y={597.7} size={7} bold text={GROUPS[0]} color="#222" />
      <Txt x={310.7} y={610.7} size={7} bold text={GROUPS[1]} color="#222" />

      {/* D */}
      <PanelLabel x={400} y={393} t="D" />
      <ChartCanvas box={boxOf(D_PLOT)} make={makeD} />
      <Txt x={682} y={518} size={8.4} text="Group" />
      <div style={{ position: 'absolute', left: 683, top: 527, width: 8.5, height: 8.5, background: 'rgba(127,201,127,0.18)' }} />
      <div style={{ position: 'absolute', left: 684.8, top: 528.6, width: 5, height: 5, background: '#72C470' }} />
      <div style={{ position: 'absolute', left: 683, top: 537, width: 8.5, height: 8.5, background: 'rgba(190,174,212,0.22)' }} />
      <div style={{ position: 'absolute', left: 685, top: 539, width: 4.6, height: 4.6, borderRadius: '50%', background: '#B3A2D2' }} />
      <Txt x={695} y={531} size={7.6} text={GROUPS[0]} />
      <Txt x={695} y={541} size={7.4} text={GROUPS[1]} />

      {/* E */}
      <PanelLabel x={748} y={440} t="E" />
      <ChartCanvas box={E_BOX} make={makeE} />
      <Txt x={849} y={481} size={14} bold text={VENN_SETS[0]} color="#B9A8D6" align="center" />
      <Txt x={923.3} y={481} size={14} bold text={VENN_SETS[1]} color="#76C576" align="center" />
      {VENN_COUNTS.map((c, i) => (
        <React.Fragment key={i}>
          <Txt x={vennX[i]} y={541} size={10.7} text={String(c)} align="center" />
          <Txt x={vennX[i]} y={556.7} size={10.7} text={`(${((c / vennTotal) * 100).toFixed(2)}%)`} align="center" />
        </React.Fragment>
      ))}

      {/* F */}
      <PanelLabel x={4} y={721} t="F" />
      <ChartCanvas box={boxOf(F_TOP)} make={makeTopDendro} />
      <ChartCanvas box={boxOf(F_LEFT)} make={makeLeftDendro} />
      <ChartCanvas box={boxOf(F_ANNOT)} make={makeAnnot} />
      <ChartCanvas box={boxOf(F_HEAT)} make={makeHeat} />
      <Txt x={325} y={768.3} size={8.5} bold text="group" />
      <div style={{ position: 'absolute', left: 377, top: 763, width: 8, height: 127, background: 'linear-gradient(to bottom, rgb(255,0,0), rgb(255,255,255) 50%, rgb(0,0,255))' }} />
      {Z_LEGEND_TICKS.map((v) => (
        <Txt key={v} x={388.3} y={826.7 - v * 33.33} size={8.5} text={minus(String(v))} />
      ))}
      <Txt x={409.3} y={766.7} size={8.5} bold text="group" />
      <div style={{ position: 'absolute', left: 409.3, top: 772.3, width: 12.4, height: 11, background: GROUP_COLORS.CON }} />
      <div style={{ position: 'absolute', left: 409.3, top: 784.5, width: 12.4, height: 11, background: GROUP_COLORS.HANa }} />
      <Txt x={424} y={778} size={8.4} text={GROUPS[0]} />
      <Txt x={424} y={790} size={8.4} text={GROUPS[1]} />

      {/* G */}
      <PanelLabel x={583} y={706} t="G" />
      <ChartCanvas box={boxOf(G_PLOT)} make={makeG} />
      <Txt x={930} y={882.7} size={8.3} text="Significance" />
      {SIG_LEVELS.map((s, i) => (
        <React.Fragment key={s}>
          <div style={{ position: 'absolute', left: 930.7, top: 892 + i * 14.7, width: 12, height: 13, boxSizing: 'border-box', border: '1px solid #111', background: SIG_COLORS[i] }} />
          <Txt x={946.7} y={898.5 + i * 14.7} size={6.8} text={s} />
        </React.Fragment>
      ))}
    </div>
  );
}
